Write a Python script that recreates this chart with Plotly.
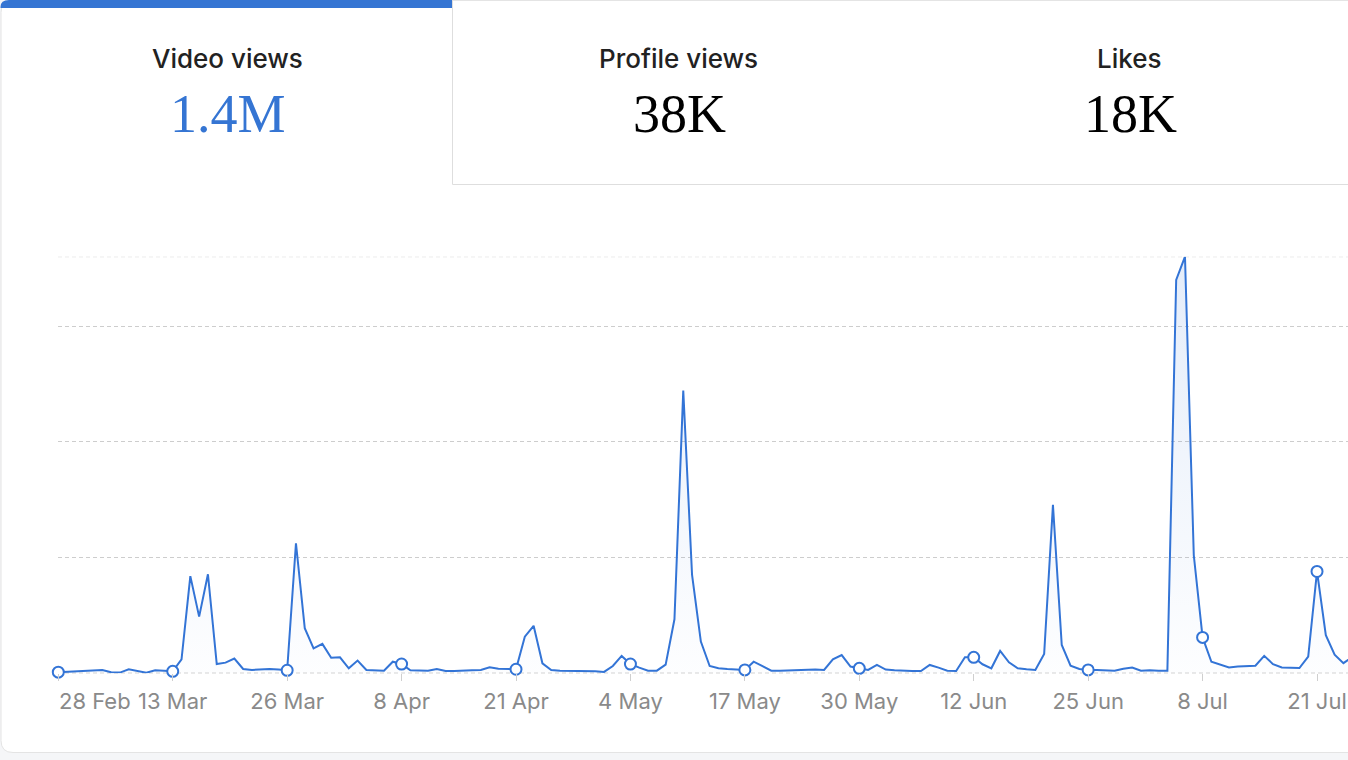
import plotly.graph_objects as go
import pandas as pd

# ---------------- data ----------------
start_date = "2023-02-28"
daily_views = [
    500, 700, 1000, 1150, 1300, 1450, 450, 300, 1750, 1150,
    300, 1300, 1150, 850, 6000, 42000, 24500, 42800, 4000, 4600,
    6350, 1850, 1450, 1600, 1850, 1600, 1300, 56200, 19500, 10800,
    12700, 6750, 6900, 2150, 5500, 1450, 1300, 1150, 5000, 4000,
    1300, 1150, 1150, 1850, 1000, 1000, 1000, 1300, 1450, 2600,
    2000, 1850, 1750, 15850, 20500, 4300, 1450, 1150, 1150, 1150,
    1000, 850, 600, 3150, 7500, 4000, 2450, 1150, 1150, 3750,
    23350, 122200, 42500, 13700, 3150, 2150, 1850, 1600, 1450, 5000,
    2900, 1150, 1150, 1300, 1300, 1450, 1600, 1450, 6000, 7900,
    2900, 2150, 1450, 3600, 1600, 1300, 1000, 1000, 1000, 3600,
    2450, 1150, 1000, 6900, 6900, 3900, 2150, 9650, 4750, 2150,
    1750, 1450, 8350, 72750, 12250, 3300, 1850, 1450, 1450, 1450,
    1150, 2000, 2450, 1100, 1300, 1150, 1150, 170000, 180000, 51000,
    15500, 5000, 3650, 2500, 2950, 2950, 3250, 7550, 3950, 2500,
    2250, 2250, 7250, 44000, 16500, 8000, 4400, 7000,
]
tick_labels = ["28 Feb", "13 Mar", "26 Mar", "8 Apr", "21 Apr", "4 May",
               "17 May", "30 May", "12 Jun", "25 Jun", "8 Jul", "21 Jul"]
tab_titles = ["Video views", "Profile views", "Likes"]
tab_values = ["1.4M", "38K", "18K"]
grid_values = [0, 50000, 100000, 150000]

dates = pd.date_range(start_date, periods=len(daily_views), freq="D")
tick_dates = [dates[i] for i in range(0, len(dates), 13)]
marker_idx = list(range(0, len(dates), 13))

# ---------------- layout helpers ----------------
W, H = 1348, 760
def X(px):
    return px / W
def Y(py):
    return 1 - py / H

BLUE = "#3374d6"
ymax = max(daily_views)
DASH = "4px,3px"

fig = go.Figure()
fig.add_trace(go.Scatter(
    x=dates, y=daily_views, mode="lines",
    line=dict(color=BLUE, width=2),
    fill="tozeroy",
    fillgradient=dict(type="vertical",
                      colorscale=[[0, "rgba(51,116,214,0.01)"],
                                  [1, "rgba(51,116,214,0.13)"]]),
    hoverinfo="skip", showlegend=False,
))
fig.add_trace(go.Scatter(
    x=[dates[i] for i in marker_idx], y=[daily_views[i] for i in marker_idx],
    mode="markers",
    marker=dict(size=11, color="white", line=dict(color=BLUE, width=2)),
    hoverinfo="skip", showlegend=False, cliponaxis=False,
))

shapes = []
# card
card_path = (f"M {X(13)},{Y(0.5)} L {X(1400)},{Y(0.5)} L {X(1400)},{Y(752.5)} "
             f"L {X(13)},{Y(752.5)} Q {X(1)},{Y(752.5)} {X(1)},{Y(740.5)} "
             f"L {X(1)},{Y(12.5)} Q {X(1)},{Y(0.5)} {X(13)},{Y(0.5)} Z")
shapes.append(dict(type="path", path=card_path, xref="paper", yref="paper",
                   fillcolor="white", line=dict(color="#e4e4e4", width=1), layer="below"))
# active tab bar
bar_path = (f"M {X(0.5)},{Y(8)} L {X(0.5)},{Y(7)} Q {X(0.5)},{Y(0)} {X(9)},{Y(0)} "
            f"L {X(452)},{Y(0)} L {X(452)},{Y(8)} Z")
shapes.append(dict(type="path", path=bar_path, xref="paper", yref="paper",
                   fillcolor="#3575d3", line=dict(width=0), layer="below"))
# tab borders
shapes.append(dict(type="line", xref="paper", yref="paper", x0=X(452.5), x1=X(452.5),
                   y0=Y(0), y1=Y(184.5), line=dict(color="#dedede", width=1), layer="below"))
shapes.append(dict(type="line", xref="paper", yref="paper", x0=X(452.5), x1=X(1348),
                   y0=Y(184.5), y1=Y(184.5), line=dict(color="#dedede", width=1), layer="below"))
# baseline
shapes.append(dict(type="line", xref="paper", yref="y", x0=X(58), x1=1, y0=0, y1=0,
                   line=dict(color="#a8a8a8", width=1.2, dash=DASH), layer="below"))
# top line at the axis maximum
shapes.append(dict(type="line", xref="paper", yref="y", x0=X(58), x1=1, y0=ymax, y1=ymax,
                   line=dict(color="#cdcdcd", width=1, dash=DASH), layer="below"))

annotations = []
centers = [227, 678, 1129]
for i, (t, v) in enumerate(zip(tab_titles, tab_values)):
    annotations.append(dict(text=t, x=X(centers[i]), y=Y(59), xref="paper", yref="paper",
                            showarrow=False, xanchor="center", yanchor="middle",
                            font=dict(family="Inter", size=26, color="#222222", weight=500)))
    annotations.append(dict(text=v, x=X(centers[i] + 1), y=Y(114), xref="paper", yref="paper",
                            showarrow=False, xanchor="center", yanchor="middle",
                            font=dict(family="Liberation Serif", size=54,
                                      color="#3575d3" if i == 0 else "#000000")))
# first tick label (kept inside the plot, left-aligned)
annotations.append(dict(text=tick_labels[0], x=tick_dates[0], xref="x", y=Y(701), yref="paper",
                        showarrow=False, xanchor="left", yanchor="middle", xshift=-1,
                        font=dict(family="Inter", size=22, color="#8a8a8a")))

range_end = dates[0] + pd.Timedelta(days=146.52)

fig.update_layout(
    width=W, height=H,
    margin=dict(l=0, r=0, t=0, b=0),
    paper_bgcolor="#f5f6f8",
    plot_bgcolor="rgba(0,0,0,0)",
    shapes=shapes,
    annotations=annotations,
    showlegend=False,
    xaxis=dict(
        domain=[X(58.3), 1],
        range=[dates[0], range_end],
        tickvals=tick_dates,
        ticktext=[""] + tick_labels[1:],
        ticks="outside", ticklen=7, tickcolor="#cfcfcf", tickwidth=1,
        showgrid=False, zeroline=False, showline=False,
        tickfont=dict(family="Inter", size=22, color="#8a8a8a"),
        ticklabeloverflow="allow",
        ticklabelstandoff=1,
        fixedrange=True,
    ),
    yaxis=dict(
        domain=[Y(673.3), Y(256.7)],
        range=[0, ymax],
        tickvals=grid_values[1:],
        showticklabels=False,
        showgrid=True, gridcolor="#cdcdcd", gridwidth=1, griddash=DASH,
        zeroline=False, showline=False, ticks="",
        fixedrange=True,
    ),
)

fig.write_html("out.html")
